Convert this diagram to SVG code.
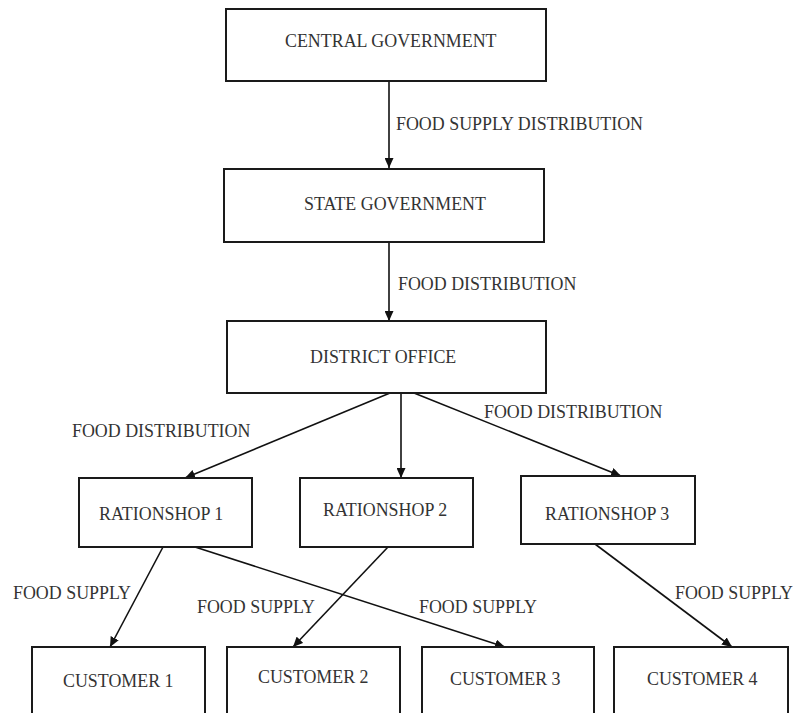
<svg xmlns="http://www.w3.org/2000/svg" width="795" height="713" viewBox="0 0 795 713">
<defs>
<style>
.box{fill:#fff;stroke:#1a1a1a;stroke-width:2}
.t{font-family:"Liberation Serif","Times New Roman",serif;font-size:17.9px;fill:#333}
.c{stroke:#111;stroke-width:1.6;fill:none;marker-end:url(#ah)}
</style>
<marker id="ah" markerUnits="userSpaceOnUse" markerWidth="10" markerHeight="9" refX="10" refY="4.5" orient="auto" viewBox="0 0 10 9">
<path d="M0,0 L10,4.5 L0,9 z" fill="#111"/>
</marker>
</defs>
<rect width="795" height="713" fill="#fff"/>
<g id="connectors">
<line class="c" x1="389" y1="81" x2="389" y2="168"/>
<line class="c" x1="389" y1="242" x2="389" y2="321"/>
<line class="c" x1="390" y1="393" x2="185" y2="478"/>
<line class="c" x1="401" y1="393" x2="401" y2="478"/>
<line class="c" x1="414" y1="393" x2="621" y2="476"/>
<line class="c" x1="163" y1="547" x2="110" y2="647"/>
<line class="c" x1="195" y1="547" x2="505" y2="647"/>
<line class="c" x1="388" y1="547" x2="293" y2="647"/>
<line class="c" x1="595" y1="544" x2="732" y2="647"/>
</g>
<g id="labels">
<text class="t" x="396" y="130">FOOD SUPPLY DISTRIBUTION</text>
<text class="t" x="398" y="290">FOOD DISTRIBUTION</text>
<text class="t" x="72" y="437">FOOD DISTRIBUTION</text>
<text class="t" x="484" y="418">FOOD DISTRIBUTION</text>
<text class="t" x="13" y="599">FOOD SUPPLY</text>
<text class="t" x="197" y="613">FOOD SUPPLY</text>
<text class="t" x="419" y="613">FOOD SUPPLY</text>
<text class="t" x="675" y="599">FOOD SUPPLY</text>
</g>
<g id="central">
<rect class="box" x="226" y="9" width="320" height="72"/>
<text class="t" x="285" y="47">CENTRAL GOVERNMENT</text>
</g>
<g id="state">
<rect class="box" x="224" y="169" width="320" height="73"/>
<text class="t" x="304" y="210">STATE GOVERNMENT</text>
</g>
<g id="district">
<rect class="box" x="227" y="321" width="319" height="72"/>
<text class="t" x="310" y="363">DISTRICT OFFICE</text>
</g>
<g id="ration1">
<rect class="box" x="79" y="478" width="173" height="69"/>
<text class="t" x="99" y="520">RATIONSHOP 1</text>
</g>
<g id="ration2">
<rect class="box" x="300" y="478" width="173" height="69"/>
<text class="t" x="323" y="516">RATIONSHOP 2</text>
</g>
<g id="ration3">
<rect class="box" x="521" y="476" width="174" height="68"/>
<text class="t" x="545" y="520">RATIONSHOP 3</text>
</g>
<g id="customer1">
<rect class="box" x="32" y="647" width="173" height="90"/>
<text class="t" x="63" y="687">CUSTOMER 1</text>
</g>
<g id="customer2">
<rect class="box" x="227" y="647" width="173" height="90"/>
<text class="t" x="258" y="683">CUSTOMER 2</text>
</g>
<g id="customer3">
<rect class="box" x="422" y="647" width="172" height="90"/>
<text class="t" x="450" y="685">CUSTOMER 3</text>
</g>
<g id="customer4">
<rect class="box" x="614" y="647" width="174" height="90"/>
<text class="t" x="647" y="685">CUSTOMER 4</text>
</g>
</svg>
